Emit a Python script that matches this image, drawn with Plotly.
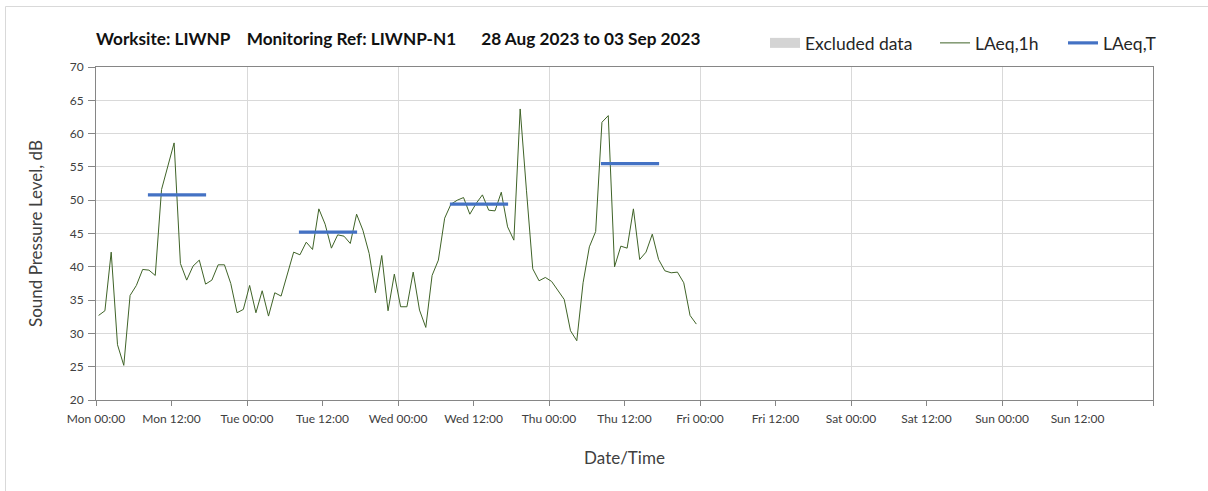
import pandas as pd
import plotly.graph_objects as go

# ---------------- data ----------------
series_start = "2023-08-28 00:25"
laeq_1h = [
    32.7, 33.4, 42.2, 28.3, 25.2, 35.7, 37.2, 39.6, 39.5, 38.7, 51.6, 54.9,
    58.6, 40.5, 38.0, 40.1, 41.0, 37.4, 38.0, 40.3, 40.3, 37.5, 33.1, 33.6,
    37.2, 33.1, 36.4, 32.6, 36.1, 35.6, 39.0, 42.2, 41.8, 43.7, 42.6, 48.7,
    46.4, 42.8, 44.8, 44.6, 43.5, 47.9, 45.5, 42.0, 36.1, 41.7, 33.4, 38.9,
    34.0, 34.0, 39.2, 33.5, 30.9, 38.7, 41.0, 47.3, 49.4, 50.0, 50.4, 47.9,
    49.5, 50.8, 48.5, 48.4, 51.2, 46.0, 44.0, 63.7, 51.5, 39.7, 37.9, 38.4,
    37.8, 36.5, 35.1, 30.4, 28.9, 37.6, 43.0, 45.3, 61.7, 62.7, 40.0, 43.1,
    42.8, 48.7, 41.1, 42.2, 44.9, 41.1, 39.4, 39.1, 39.2, 37.6, 32.7, 31.4,
]
laeq_t_days = ["2023-08-28", "2023-08-29", "2023-08-30", "2023-08-31"]
laeq_t_values = [50.8, 45.2, 49.4, 55.5]
laeq_t_period = ("08:15", "17:30")

tick_labels = [
    "Mon 00:00", "Mon 12:00", "Tue 00:00", "Tue 12:00", "Wed 00:00", "Wed 12:00",
    "Thu 00:00", "Thu 12:00", "Fri 00:00", "Fri 12:00", "Sat 00:00", "Sat 12:00",
    "Sun 00:00", "Sun 12:00", "",
]
axis_start = "2023-08-28 00:00"
axis_end = "2023-09-04 00:00"

title_text = ("Worksite: LIWNP\u00a0\u00a0\u00a0\u00a0Monitoring Ref: LIWNP-N1"
              "\u00a0\u00a0\u00a0\u00a0\u00a0\u00a028 Aug 2023 to 03 Sep 2023")

# ---------------- build ----------------
FMT = "%Y-%m-%d %H:%M"
times = pd.date_range(series_start, periods=len(laeq_1h), freq="h").strftime(FMT).tolist()
tick_vals = pd.date_range(axis_start, axis_end, freq="12h").strftime(FMT).tolist()
day_vals = pd.date_range(axis_start, axis_end, freq="24h").strftime(FMT).tolist()

tx, ty = [], []
for d, v in zip(laeq_t_days, laeq_t_values):
    tx += [f"{d} {laeq_t_period[0]}", f"{d} {laeq_t_period[1]}", None]
    ty += [v, v, None]

FONT = "Lato"
fig = go.Figure()

fig.add_trace(go.Scatter(x=[axis_start], y=[None], mode="lines", name="Excluded data",
                         line=dict(color="#d4d4d4", width=10), legend="legend",
                         hoverinfo="skip"))
fig.add_trace(go.Scatter(x=times, y=laeq_1h, mode="lines", name="LAeq,1h",
                         line=dict(color="#3f6327", width=1), legend="legend2"))
fig.add_trace(go.Scatter(x=tx, y=ty, mode="lines", name="LAeq,T",
                         line=dict(color="#4472c4", width=3.2), legend="legend3"))
# helper trace for daily vertical gridlines
fig.add_trace(go.Scatter(x=[axis_start, axis_end], y=[None, None], xaxis="x2",
                         showlegend=False, hoverinfo="skip", mode="lines"))

W, H = 1208, 491
ml, mr, mt, mb = 96, 55, 67, 91
pw, ph = W - ml - mr, H - mt - mb


def px_x(p):
    return (p - ml) / pw


def px_y(p):
    return (H - mb - p) / ph


legend_common = dict(orientation="h", yanchor="middle", xanchor="left",
                     font=dict(family=FONT, size=17.5, color="#262626"),
                     bgcolor="rgba(0,0,0,0)", borderwidth=0, itemwidth=30)

fig.update_layout(
    width=W, height=H,
    margin=dict(l=ml, r=mr, t=mt, b=mb),
    paper_bgcolor="white", plot_bgcolor="white",
    font=dict(family=FONT, color="#404040"),
    showlegend=True,
    legend=dict(x=px_x(765), y=px_y(43), **legend_common),
    legend2=dict(x=px_x(935), y=px_y(43), **legend_common),
    legend3=dict(x=px_x(1063), y=px_y(43), **legend_common),
    xaxis=dict(
        type="date",
        range=[axis_start, axis_end], tickmode="array", tickvals=tick_vals,
        ticktext=tick_labels, ticks="outside", ticklen=5, tickcolor="#868686",
        ticklabelstandoff=3,
        showgrid=False, showline=True, mirror=True, linecolor="#868686",
        tickfont=dict(family=FONT, size=12, color="#404040"),
        title=dict(text="Date/Time", font=dict(family=FONT, size=17, color="#404040"), standoff=26),
        zeroline=False,
    ),
    xaxis2=dict(
        type="date",
        range=[axis_start, axis_end], overlaying="x", tickmode="array",
        tickvals=day_vals, showticklabels=False, ticks="", showgrid=True,
        gridcolor="#d9d9d9", gridwidth=1.2, showline=False, zeroline=False,
    ),
    yaxis=dict(
        range=[20, 70], dtick=5, tick0=20, ticks="outside", ticklen=7,
        tickcolor="#868686", showgrid=True, gridcolor="#d9d9d9", gridwidth=1.3,
        showline=True, mirror=True, linecolor="#868686", zeroline=False,
        ticklabelstandoff=2,
        tickfont=dict(family=FONT, size=12, color="#404040"),
        title=dict(text="Sound Pressure Level, dB",
                   font=dict(family=FONT, size=17, color="#404040"), standoff=22),
    ),
    annotations=[dict(text="<b>" + title_text + "</b>", xref="paper", yref="paper",
                      x=px_x(94), y=px_y(39), xanchor="left", yanchor="middle",
                      showarrow=False, font=dict(family=FONT, size=17.2, color="#111111"))],
    shapes=[dict(type="rect", xref="paper", yref="paper", x0=px_x(5.5), y0=-1,
                 x1=1.2, y1=px_y(6.5), line=dict(color="#d9d9d9", width=1),
                 fillcolor="rgba(0,0,0,0)", layer="below")],
)

fig.write_html("out.html", config={"displayModeBar": False},
               post_script="document.body.style.margin='0px';")
